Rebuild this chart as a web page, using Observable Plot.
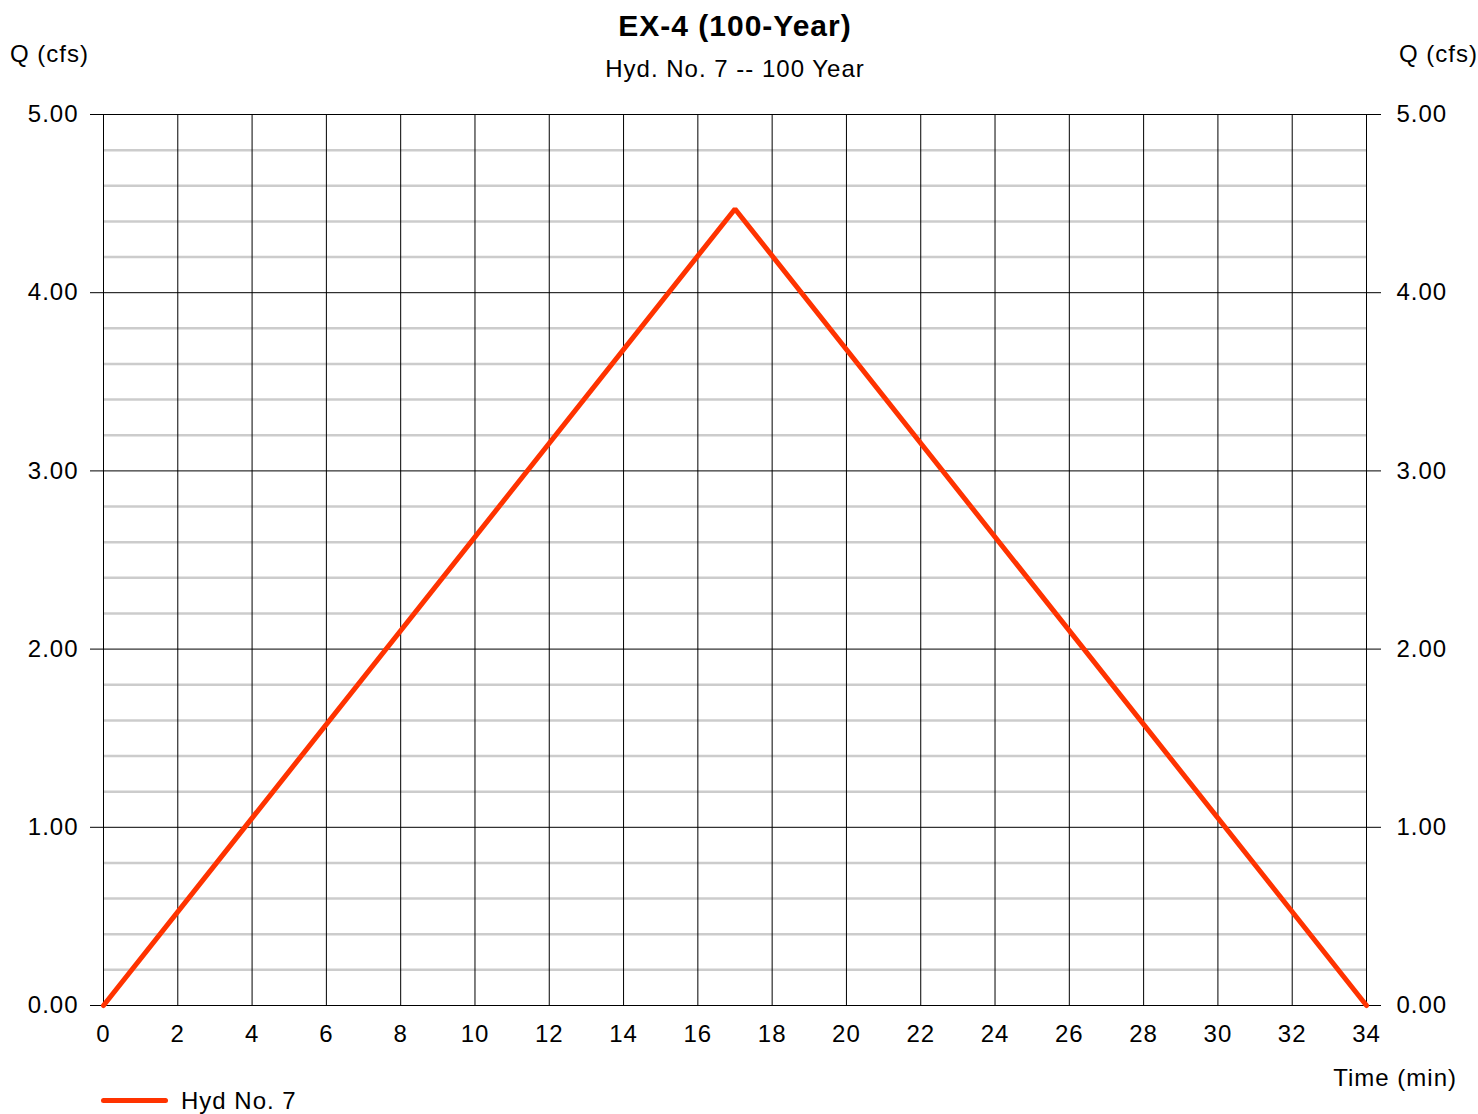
<!DOCTYPE html>
<html>
<head>
<meta charset="utf-8">
<script src="https://cdn.jsdelivr.net/npm/d3@7"></script>
<script src="https://cdn.jsdelivr.net/npm/@observablehq/plot@0.6"></script>
<style>
  html, body { margin: 0; padding: 0; background: #fff; overflow: hidden; }
  body { width: 1478px; height: 1114px; position: relative; font-family: "Liberation Sans", Arial, sans-serif; color: #000; }
  .abs { position: absolute; white-space: nowrap; line-height: 1; letter-spacing: 1px; }
  #chart { position: absolute; left: 0; top: 0; }
</style>
</head>
<body>
<div id="chart"></div>
<div class="abs" id="title" style="left:435px; width:600px; text-align:center; top:11px; font-size:30px; font-weight:bold;">EX-4 (100-Year)</div>
<div class="abs" id="subtitle" style="left:435px; width:600px; text-align:center; top:57px; font-size:24px;">Hyd. No. 7 -- 100 Year</div>
<div class="abs" style="left:10px; top:42px; font-size:24px;">Q (cfs)</div>
<div class="abs" style="right:0px; top:42px; font-size:24px;">Q (cfs)</div>
<div class="abs" style="right:21px; top:1066px; font-size:24px;">Time (min)</div>
<div class="abs" style="left:101px; top:1098px; width:67px; height:5px; border-radius:3px; background:#ff3300;"></div>
<div class="abs" style="left:181px; top:1089px; font-size:24px;">Hyd No. 7</div>
<script>
// Data
const times = [0, 17, 34];          // Time (min)
const flows = [0, 4.47, 0];         // Q (cfs)
const xTicks = [0, 2, 4, 6, 8, 10, 12, 14, 16, 18, 20, 22, 24, 26, 28, 30, 32, 34];
const yTicks = [0, 1, 2, 3, 4, 5];
const yMinor = [0.2, 0.4, 0.6, 0.8, 1.2, 1.4, 1.6, 1.8, 2.2, 2.4, 2.6, 2.8, 3.2, 3.4, 3.6, 3.8, 4.2, 4.4, 4.6, 4.8];

const series = times.map((t, i) => ({t, q: flows[i]}));

const chart = Plot.plot({
  width: 1478,
  height: 1114,
  marginLeft: 103,
  marginRight: 112,
  marginTop: 114,
  marginBottom: 109,
  style: {fontFamily: "'Liberation Sans', Arial, sans-serif", fontSize: "24px", letterSpacing: "1px", color: "#000", background: "#fff"},
  x: {domain: [0, 34]},
  y: {domain: [0, 5]},
  marks: [
    Plot.ruleY(yMinor, {x1: 0, x2: 34, stroke: "#cccccc", strokeWidth: 2.5}),
    Plot.ruleX(xTicks, {y1: 0, y2: 5, stroke: "#000", strokeWidth: 1}),
    Plot.ruleY(yTicks, {x1: 0, x2: 34, stroke: "#000", strokeWidth: 1}),
    Plot.axisY(yTicks, {anchor: "left", tickFormat: d => d.toFixed(2), tickSize: 13, tickPadding: 12, label: null, fontSize: 24, stroke: "#000"}),
    Plot.axisY(yTicks, {anchor: "right", tickFormat: d => d.toFixed(2), tickSize: 14, tickPadding: 16, label: null, fontSize: 24, stroke: "#000"}),
    Plot.axisX(xTicks, {anchor: "bottom", tickSize: 0, tickPadding: 19, label: null, fontSize: 24}),
    Plot.line(series, {x: "t", y: "q", stroke: "#ff3300", strokeWidth: 5, strokeLinejoin: "miter", strokeLinecap: "round"})
  ]
});
document.getElementById("chart").appendChild(chart);
</script>
</body>
</html>
